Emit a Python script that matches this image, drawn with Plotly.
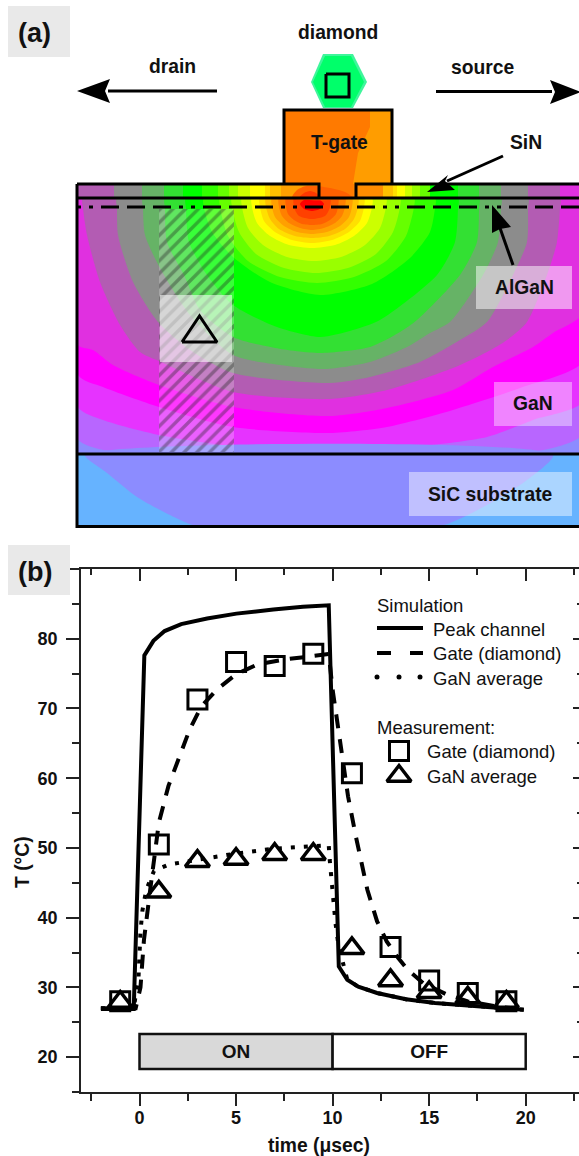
import plotly.graph_objects as go

# ---------- panel (b) data ----------
time_peak = [-2, -0.3, 0.25, 0.72, 1.3, 2.16, 3.5, 5.02, 6.93, 8.46, 9.8, 10.32, 10.76, 11.33, 12.3, 13.8, 15.3, 17.6, 19.9]
temp_peak = [26.9, 26.9, 77.6, 79.7, 81.1, 82.1, 82.9, 83.6, 84.2, 84.6, 84.8, 33, 31.1, 30.1, 29.2, 28.3, 27.75, 27.3, 26.8]
time_gate = [-2, -0.2, 0.05, 0.23, 0.6, 1.0, 1.5, 2.2, 2.6, 3.2, 4.0, 5.0, 6.1, 7.45, 9, 9.8, 10, 10.25, 10.8, 11.2, 11.8, 12.3, 12.8, 13.4, 13.9, 14.7, 15.9, 17, 18.4, 19.9]
temp_gate = [27, 27, 30, 36.8, 45, 53.6, 58.9, 64.1, 67, 70.3, 72.7, 74.9, 76.3, 77, 77.6, 77.8, 72.7, 67.7, 57.4, 51.7, 44, 39.5, 36.6, 34.2, 32.5, 30.6, 29, 28, 27.3, 26.8]
time_gan = [-2, -0.3, -0.05, 0.05, 0.15, 0.35, 0.75, 1.5, 3, 5, 7, 9, 9.8, 9.85, 9.95, 10.1, 10.15, 10.3, 10.76, 11.33, 12.3, 13.8, 15.3, 17.6, 19.9]
temp_gan = [27, 27, 31.5, 38, 41, 44, 46.7, 47.6, 48.3, 49.2, 49.9, 50.2, 50.4, 48.3, 45.2, 42.1, 39.2, 36.1, 31.1, 30.1, 29.2, 28.3, 27.75, 27.3, 26.8]
time_meas = [-1, 1, 3, 5, 7, 9, 11, 13, 15, 17, 19]
meas_gate = [28, 50.5, 71.3, 76.65, 76.1, 77.85, 60.7, 35.8, 31, 29.2, 28]
meas_gan = [27.9, 43.7, 48.1, 48.4, 49.1, 49.1, 35.6, 31, 29.3, 28.5, 27.9]
state_names = ["ON", "OFF"]
state_start = [0, 10]
state_length = [10, 10]
x_major = [0, 5, 10, 15, 20]
x_minor = [-2.5, 2.5, 7.5, 12.5, 17.5, 22.5]
y_major = [20, 30, 40, 50, 60, 70, 80, 90]
y_labels = ["20", "30", "40", "50", "60", "70", "80", ""]
y_minor = [15, 25, 35, 45, 55, 65, 75, 85]

# ---------- panel (a) thermal map: contour outlines ----------
c_b866ff = [(78,198),(78,439),(113,452),(150,457),(495,457),(563,445),(585,432),(585,198)]
c_e633ff = [(78,198),(78,407),(103,420),(159,435),(233,446),(320,449),(420,446),(487,437),(533,420),(585,400),(585,198)]
c_ff00ff = [(78,198),(78,375),(103,387),(159,407),(233,427),(330,433),(387,427),(453,410),(520,388),(585,360),(585,198)]
c_e030e0 = [(78,198),(78,345),(93,350),(113,365),(159,385),(233,407),(330,416),(387,408),(453,390),(493,367),(533,347),(553,333),(585,312),(585,198)]
c_b35cb3 = [(83,198),(83,208),(87,235),(100,282),(120,325),(140,352),(159,361),(233,392),(330,399),(387,390),(453,368),(487,352),(507,340),(527,322),(547,275),(557,242),(560,207),(560,198)]
c_8c8c8c = [(117,198),(117,208),(118,235),(133,282),(158,322),(190,350),(233,373),(330,383),(370,377),(420,362),(460,340),(487,322),(513,275),(527,242),(528,208),(528,198)]
c_66b366 = [(143,198),(143,208),(145,235),(160,268),(190,315),(233,355),(280,365),(325,369),(370,362),(407,347),(430,333),(450,322),(483,275),(498,242),(501,208),(501,198)]
c_33e033 = [(165,198),(165,208),(167,242),(184,275),(200,310),(233,337),(275,348),(320,353),(370,347),(400,332),(417,320),(460,275),(477,242),(479,208),(479,198)]
c_00ff00 = [(186,198),(186,208),(189,242),(207,275),(233,305),(277,327),(320,337),(353,330),(380,320),(437,275),(455,242),(458,208),(458,198)]
c_33ff00 = [(204,198),(204,208),(212,232),(233,257),(270,282),(320,295),(372,284),(410,258),(430,232),(435,208),(435,198)]
c_66ff00 = [(220,198),(220,207),(228,236),(248,261),(280,277),(317,283),(354,277),(386,261),(406,236),(414,207),(414,198)]
c_99ff00 = [(232,198),(232,207),(239,232),(256,254),(284,268),(316,273),(348,268),(376,254),(393,232),(400,207),(400,198)]
c_ccff00 = [(242,198),(242,207),(248,228),(263,245),(287,257),(314,261),(341,257),(365,245),(380,228),(386,207),(386,198)]
c_ffff00 = [(252,198),(252,207),(257,223),(270,236),(289,245),(312,248),(335,245),(354,236),(367,223),(372,207),(372,198)]
c_ffe000 = [(260,198),(260,207),(264,221),(275,232),(292,240),(312,243),(332,240),(349,232),(360,221),(364,207),(364,198)]
c_ffc000 = [(266,198),(266,207),(270,219),(279,229),(295,236),(312,238),(329,236),(345,229),(354,219),(358,207),(358,198)]
c_ffa000 = [(272,198),(272,207),(275,217),(284,226),(297,232),(312,234),(327,232),(340,226),(349,217),(352,207),(352,198)]
c_ff8000 = [(279,198),(279,207),(282,216),(289,223),(300,228),(312,230),(324,228),(335,223),(342,216),(345,207),(345,198)]
c_ff6000 = [(286,198),(286,207),(288,214),(294,220),(302,224),(312,225),(322,224),(330,220),(336,214),(338,207),(338,198)]
c_ff4000 = [(294,198),(294,207),(296,212),(299,216),(305,218),(312,219),(319,218),(325,216),(328,212),(330,207),(330,198)]
c_ff0000 = [(300,204),(304,200),(312,199),(320,200),(324,204),(320,209),(312,211),(304,209)]
c_sic = [(85,455),(107,473),(137,497),(170,515),(200,527),(437,527),(487,505),(527,480),(553,455)]

sin_edges = [78,114,142,164,183,202,218,229,238,250,265,270,281,319,383,393,397,405,412,420,430,458,479,501,528,560,585]
sin_colors = ["#b35cb3","#8c8c8c","#66b366","#33e033","#00ff00","#33ff00","#66ff00","#99ff00","#ccff00","#ffff00","#ffe000","#ffc000","#ffa000"
              ,"#ff8c00","#ffc000","#ffe000","#ffff00","#ccff00","#99ff00","#66ff00","#00ff00","#33e033","#66b366","#8c8c8c","#b35cb3","#e030e0"]

FONT = "Liberation Sans"
INK = "#111111"
fig = go.Figure()

PX = dict(xaxis="x2", yaxis="y2", hoverinfo="skip", showlegend=False)

def poly(points, color, spline=False, **kw):
    xs = [p[0] for p in points] + [points[0][0]]
    ys = [p[1] for p in points] + [points[0][1]]
    fig.add_trace(go.Scatter(x=xs, y=ys, mode="lines", fill="toself", fillcolor=color,
                             line=dict(width=0, color=color, shape="spline" if spline else "linear", smoothing=0.7),
                             **PX, **kw))

def rect(x0, y0, x1, y1, color, **kw):
    poly([(x0, y0), (x1, y0), (x1, y1), (x0, y1)], color, **kw)

def path(points, width=3, color="#000000", dash=None):
    fig.add_trace(go.Scatter(x=[p[0] for p in points], y=[p[1] for p in points], mode="lines",
                             line=dict(width=width, color=color, dash=dash), **PX))

# thermal map
rect(77, 198, 585, 455, "#8c8cff")
for pts, col in [(c_b866ff,"#b866ff"),(c_e633ff,"#e633ff"),(c_ff00ff,"#ff00ff"),(c_e030e0,"#e030e0"),
                 (c_b35cb3,"#b35cb3"),(c_8c8c8c,"#8c8c8c"),(c_66b366,"#66b366"),(c_33e033,"#33e033"),
                 (c_00ff00,"#00ff00"),(c_33ff00,"#33ff00"),(c_66ff00,"#66ff00"),(c_99ff00,"#99ff00"),(c_ccff00,"#ccff00"),
                 (c_ffff00,"#ffff00"),(c_ffe000,"#ffe000"),(c_ffc000,"#ffc000"),(c_ffa000,"#ffa000"),(c_ff8000,"#ff8000"),
                 (c_ff6000,"#ff6000"),(c_ff4000,"#ff4000"),(c_ff0000,"#ff0000")]:
    poly(pts, col, spline=True)
# white surround that trims the smoothed contours to the device outline
rect(0, 100, 77, 540, "#ffffff")
rect(0, 100, 585, 184, "#ffffff")
rect(77, 455, 585, 527, "#66b3ff")
poly(c_sic, "#8c8cff", spline=True)
rect(0, 527, 585, 540, "#ffffff")

# SiN layer
for i, col in enumerate(sin_colors):
    rect(sin_edges[i], 184, sin_edges[i+1], 198, col)

# gate
rect(284, 109, 392, 184, "#ff9d00")
rect(319, 184, 356, 198, "#ff8000")
poly([(284,109),(370,109),(370,127),(358,153),(353,184),(353,198),(319,198),(319,184),(284,184)], "#ff7a00")
poly([(292,198),(297,190),(306,186),(316,186),(330,188),(345,192),(353,198)], "#ff6000", spline=True)
poly([(299,198),(304,193),(310,191),(316,193),(320,198)], "#ff3800", spline=True)

# diamond
poly([(323,54),(353,54),(367,82),(353,108),(323,108),(311,82)], "#40f59c")
poly([(325,56),(351,56),(364,82),(351,107),(325,107),(313,82)], "#00ff6a")
path([(326,74),(349,74),(349,97),(326,97),(326,74)], width=3)

# hatch column
fig.add_trace(go.Scatter(x=[159,234,234,159,159], y=[209,209,452,452,209], mode="lines", fill="toself",
                         fillcolor="rgba(255,255,255,0.2)", line=dict(width=0),
                         fillpattern=dict(shape="/", size=9, solidity=0.38, fgcolor="rgba(30,30,30,0.72)", bgcolor="rgba(255,255,255,0.22)"),
                         **PX))
rect(160, 295, 232, 362, "rgba(255,255,255,0.55)")
path([(182,342),(217,342),(199.5,316),(182,342)], width=3)

# text boxes
rect(476, 266, 572, 309, "rgba(255,255,255,0.5)")
rect(494, 382, 572, 426, "rgba(255,255,255,0.4)")
rect(409, 472, 572, 516, "rgba(255,255,255,0.45)")

# device outline
path([(77,184),(319,184),(319,198)])
path([(356,198),(356,184),(585,184)])
path([(284,184),(284,110),(392,110),(392,184)])
path([(77,198),(585,198)])
path([(77,454),(585,454)])
path([(77,184),(77,526.5),(585,526.5)])
path([(77,207),(585,207)], dash="4px,8px,4px,8px,18px,8px,18px,8px,18px,8px")

# arrows
path([(108,91),(217,91)], width=3)
poly([(77,91),(110,79),(105,91),(110,103)], "#000000")
path([(436,91.5),(552,91.5)], width=3)
poly([(581,92),(550,80),(555,92),(550,104)], "#000000")
path([(503,156),(447,181)], width=3)
poly([(427,192),(448,175),(445,181),(455,190)], "#000000")
path([(513,265),(500,228)], width=3)
poly([(492,205),(492,233),(500,229),(511,227)], "#000000")

# grey label tiles
rect(8, 6, 70, 57, "#e9e9e9")
rect(8, 545, 70, 595, "#e9e9e9")

# legend samples
path([(377,628),(423,628)], width=4)
path([(377,653),(391,653)], width=4)
path([(410,653),(423,653)], width=4)
fig.add_trace(go.Scatter(x=[377,399,420], y=[677,677,677], mode="markers",
                         marker=dict(symbol="circle", size=5, color="#000000"), **PX))
fig.add_trace(go.Scatter(x=[399], y=[751], mode="markers",
                         marker=dict(symbol="square-open", size=19, color="#000000", line=dict(width=3, color="#000000")), **PX))
fig.add_trace(go.Scatter(x=[399], y=[776], mode="markers",
                         marker=dict(symbol="triangle-up-open", size=21, color="#000000", line=dict(width=3.5, color="#000000")), **PX))

# panel (b) traces
fig.add_trace(go.Bar(y=[20.8, 20.8], x=state_length, base=state_start, orientation="h", width=5,
                     marker=dict(color=["#d9d9d9", "#ffffff"], line=dict(color="#111111", width=2.5)),
                     text=state_names, textposition="inside", insidetextanchor="middle", constraintext="none",
                     textangle=0, textfont=dict(family=FONT, size=19, color=INK, weight="bold"),
                     showlegend=False, hoverinfo="skip"))
fig.add_trace(go.Scatter(x=time_gate, y=temp_gate, mode="lines", line=dict(color="#000000", width=4, dash="14px,11px"), name="Gate (diamond)", showlegend=False))
fig.add_trace(go.Scatter(x=time_gan, y=temp_gan, mode="lines", line=dict(color="#000000", width=4, dash="4px,9px"), name="GaN average", showlegend=False))
fig.add_trace(go.Scatter(x=time_peak, y=temp_peak, mode="lines", line=dict(color="#000000", width=4), name="Peak channel", showlegend=False))
fig.add_trace(go.Scatter(x=time_meas, y=meas_gate, mode="markers", showlegend=False,
                         marker=dict(symbol="square-open", size=19, color="#000000", line=dict(width=3, color="#000000"))))
fig.add_trace(go.Scatter(x=time_meas, y=meas_gan, mode="markers", showlegend=False,
                         marker=dict(symbol="triangle-up-open", size=21, color="#000000", line=dict(width=3.5, color="#000000"))))
fig.add_trace(go.Scatter(x=[None], y=[None], xaxis="x3", yaxis="y3", showlegend=False))

def label(text, x, y, size=19.3, bold=True, anchor="center", angle=0):
    fig.add_annotation(text=text, x=x, y=y, xref="x2", yref="y2", showarrow=False, xanchor=anchor, yanchor="middle",
                       textangle=angle, font=dict(family=FONT, size=size, color=INK, weight="bold" if bold else "normal"))

label("(a)", 34, 33, size=27)
label("(b)", 35, 572, size=27)
label("diamond", 338, 32)
label("drain", 172, 66)
label("source", 483, 67)
label("T-gate", 339, 142)
label("SiN", 526, 142)
label("AlGaN", 524, 287)
label("GaN", 533, 403)
label("SiC substrate", 490, 494)
label("Simulation", 375, 605, size=18.5, bold=False, anchor="left")
label("Peak channel", 431, 629, size=18.5, bold=False, anchor="left")
label("Gate (diamond)", 431, 653, size=18.5, bold=False, anchor="left")
label("GaN average", 431, 678, size=18.5, bold=False, anchor="left")
label("Measurement:", 375, 727, size=18.5, bold=False, anchor="left")
label("Gate (diamond)", 425, 751, size=18.5, bold=False, anchor="left")
label("GaN average", 425, 776, size=18.5, bold=False, anchor="left")
label("time (μsec)", 319, 1145)
label("T (°C)", 22, 862, angle=-90)

X_RANGE = [-3.03, 22.76]
Y_RANGE = [15, 90]
X_DOM = [81/579, 1]
Y_DOM = [(1156-1092)/1156, (1156-569)/1156]
axis_style = dict(showgrid=False, zeroline=False, showline=True, linecolor="#222222", linewidth=1.5,
                  tickcolor="#222222", tickwidth=1.5)
tickfont = dict(family=FONT, size=18, color=INK, weight="bold")

fig.update_layout(
    width=579, height=1156, autosize=False, margin=dict(l=0, r=0, t=0, b=0),
    paper_bgcolor="white", plot_bgcolor="rgba(0,0,0,0)", barmode="overlay", showlegend=False,
    xaxis=dict(domain=X_DOM, range=X_RANGE, anchor="y", ticks="outside", ticklen=12, tickvals=x_major,
               ticktext=[str(v) for v in x_major], tickfont=tickfont, ticklabelstandoff=-3,
               minor=dict(ticks="outside", ticklen=7, tickvals=x_minor, tickcolor="#222222", tickwidth=1.5), **axis_style),
    yaxis=dict(domain=Y_DOM, range=Y_RANGE, anchor="x", ticks="outside", ticklen=13, tickvals=y_major,
               ticktext=y_labels, tickfont=tickfont, ticklabelstandoff=5,
               minor=dict(ticks="outside", ticklen=7, tickvals=y_minor, tickcolor="#222222", tickwidth=1.5), **axis_style),
    xaxis3=dict(domain=X_DOM, range=X_RANGE, anchor="y3", overlaying="x", side="top", ticks="inside", ticklen=12,
                tickvals=x_major, showticklabels=False,
                minor=dict(ticks="inside", ticklen=6, tickvals=x_minor, tickcolor="#222222", tickwidth=1.5), **axis_style),
    yaxis3=dict(domain=Y_DOM, range=Y_RANGE, anchor="x3", overlaying="y", side="right", ticks="inside", ticklen=6,
                tickvals=y_major, showticklabels=False, showgrid=False, zeroline=False, showline=False,
                tickcolor="#222222", tickwidth=1.5,
                minor=dict(ticks="inside", ticklen=2, tickvals=y_minor, tickcolor="#222222", tickwidth=1.5)),
    xaxis2=dict(domain=[0, 1], range=[0, 579], anchor="y2", visible=False, fixedrange=True),
    yaxis2=dict(domain=[0, 1], range=[1156, 0], anchor="x2", visible=False, fixedrange=True),
)

fig.write_html("out.html", post_script="document.body.style.margin='0';", config=dict(displayModeBar=False))
